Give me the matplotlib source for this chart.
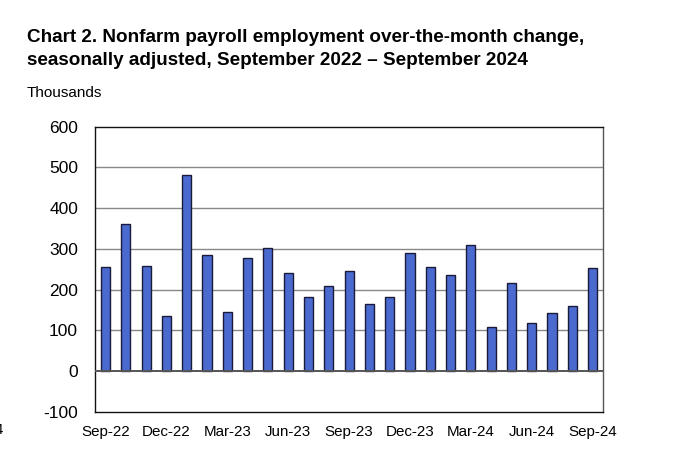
import numpy as np
import matplotlib.pyplot as plt

plt.rcParams['font.family'] = ['Liberation Sans', 'DejaVu Sans']

# over-the-month change, thousands, Sep 2022 .. Sep 2024
months = ['Sep-22', 'Oct-22', 'Nov-22', 'Dec-22', 'Jan-23', 'Feb-23', 'Mar-23',
          'Apr-23', 'May-23', 'Jun-23', 'Jul-23', 'Aug-23', 'Sep-23', 'Oct-23',
          'Nov-23', 'Dec-23', 'Jan-24', 'Feb-24', 'Mar-24', 'Apr-24', 'May-24',
          'Jun-24', 'Jul-24', 'Aug-24', 'Sep-24']
change = [255, 361, 258, 135, 481, 286, 146, 278, 303, 240, 183, 210, 245,
          165, 181, 290, 255, 236, 309, 108, 216, 118, 144, 159, 254]
yticks = [-100, 0, 100, 200, 300, 400, 500, 600]

fig = plt.figure(figsize=(6.8, 4.62), dpi=100)
ax = fig.add_axes([0.1404, 0.1082, 0.7459, 0.6176])

x = np.arange(len(months))
ax.bar(x, change, width=0.45, color='#4a6ad0', edgecolor='#1a1a3a',
       linewidth=1.0, zorder=3)

ax.set_xlim(-0.5, len(months) - 0.5)
ax.set_ylim(-100, 600)
ax.set_yticks(yticks)
ax.set_yticklabels([str(v) for v in yticks], fontsize=12.5)
ax.set_xticks(x[::3])
ax.set_xticklabels(months[::3], fontsize=10.9)
ax.tick_params(axis='y', length=0, pad=12.5)
ax.tick_params(axis='x', length=0, pad=9)

for v in yticks[2:-1]:
    ax.axhline(v, color='#888888', linewidth=1.0, zorder=1)
ax.axhline(0, color='#555555', linewidth=1.4, zorder=4)

for side in ['left', 'bottom', 'top']:
    ax.spines[side].set_color('#111111')
    ax.spines[side].set_linewidth(1.0)
ax.spines['right'].set_color('#555555')
ax.spines['right'].set_linewidth(1.0)

fig.text(27 / 680, 1 - 42 / 462,
         'Chart 2. Nonfarm payroll employment over-the-month change,',
         fontsize=13.6, fontweight='bold', va='baseline')
fig.text(27 / 680, 1 - 65 / 462,
         'seasonally adjusted, September 2022 \u2013 September 2024',
         fontsize=13.6, fontweight='bold', va='baseline')
fig.text(27 / 680, 1 - 96.7 / 462, 'Thousands', fontsize=11, va='baseline')
fig.text(0.004, 1 - 434 / 462, '4', fontsize=10.8, ha='right', va='baseline')

fig.savefig('out.png', dpi=100)
